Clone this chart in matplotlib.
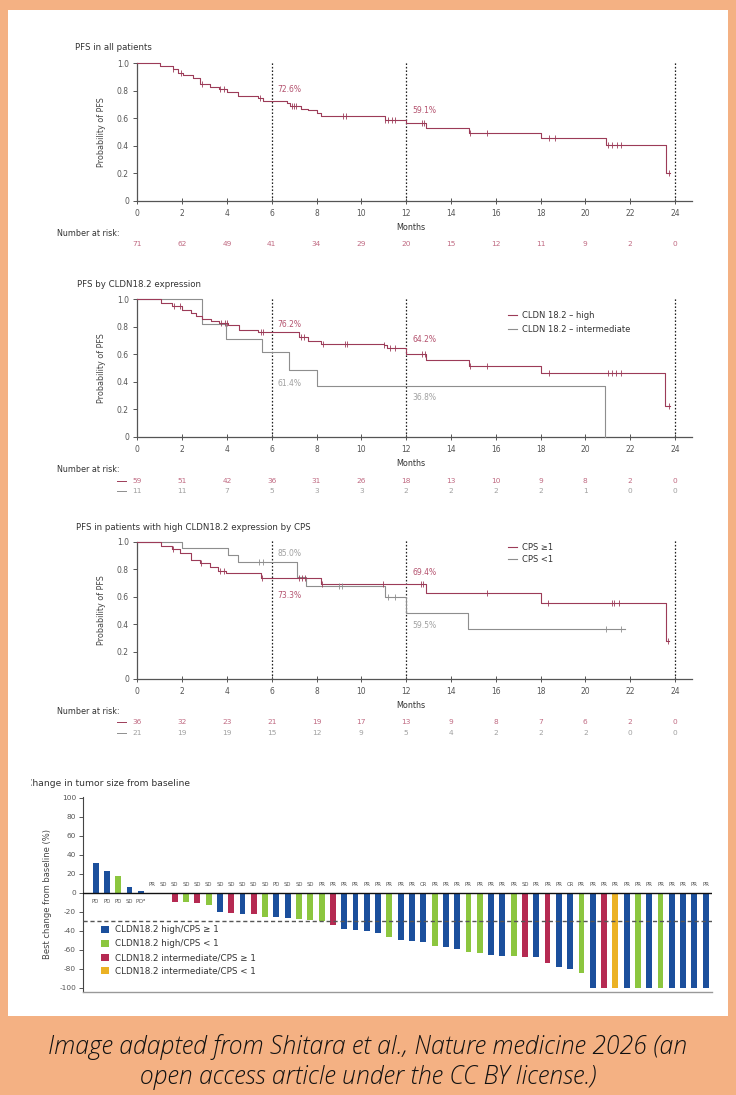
import matplotlib
matplotlib.use('Agg')
import matplotlib.pyplot as plt
import numpy as np
from matplotlib.transforms import blended_transform_factory
from matplotlib.patches import Rectangle, Patch
from matplotlib.lines import Line2D

plt.rcParams['font.family'] = ['DejaVu Sans']

# ---------------- data ----------------
month_ticks = [0, 2, 4, 6, 8, 10, 12, 14, 16, 18, 20, 22, 24]
prob_ticks = [0, 0.2, 0.4, 0.6, 0.8, 1.0]
prob_labels = ['0', '0.2', '0.4', '0.6', '0.8', '1.0']
landmarks_1 = [6, 12, 24]

# Panel 1: all patients
t_all = [0, 1.0, 1.6, 1.8, 2.05, 2.5, 2.8, 3.25, 3.65, 4.0, 4.5, 5.4, 5.6, 6.67, 6.8,
         7.3, 7.6, 8.0, 8.2, 11.05, 12.0, 12.9, 14.8, 18.0, 20.94, 23.6]
s_all = [1.0, 0.98, 0.955, 0.93, 0.915, 0.89, 0.85, 0.83, 0.81, 0.79, 0.765, 0.745, 0.726, 0.71, 0.69,
         0.67, 0.66, 0.64, 0.62, 0.591, 0.569, 0.528, 0.496, 0.455, 0.404, 0.203]
end_all = 23.8
cens_all = [1.6, 1.97, 2.87, 3.7, 3.85, 5.47, 6.9, 7.0, 7.1, 9.2, 9.32, 11.05, 11.2, 11.35, 11.5,
            12.7, 12.8, 14.85, 15.6, 18.4, 18.65, 21.0, 21.2, 21.4, 21.6, 23.75]
risk_all = [71, 62, 49, 41, 34, 29, 20, 15, 12, 11, 9, 2, 0]

# Panel 2: CLDN18.2 high vs intermediate
t_hi = [0, 1.05, 1.57, 2.0, 2.4, 2.6, 2.9, 3.3, 3.65, 4.05, 4.55, 5.4, 7.2, 7.6, 8.2, 11.0,
        11.15, 12.0, 12.9, 14.8, 18.0, 23.55]
s_hi = [1.0, 0.976, 0.95, 0.92, 0.90, 0.88, 0.86, 0.84, 0.825, 0.81, 0.777, 0.762, 0.728, 0.697, 0.678,
        0.667, 0.642, 0.602, 0.558, 0.515, 0.461, 0.226]
end_hi = 23.8
cens_hi = [1.65, 1.9, 3.75, 3.9, 4.0, 5.5, 5.6, 7.3, 7.45, 8.3, 9.25, 9.35, 11.0, 11.3, 11.5,
           12.7, 12.85, 14.85, 15.6, 18.4, 21.0, 21.2, 21.35, 21.6, 23.75]
t_int = [0, 2.9, 3.97, 5.55, 6.75, 8.0, 20.9]
s_int = [1.0, 0.818, 0.711, 0.614, 0.485, 0.368, 0.0]
end_int = 20.9
cens_int = []
risk_hi = [59, 51, 42, 36, 31, 26, 18, 13, 10, 9, 8, 2, 0]
risk_int = [11, 11, 7, 5, 3, 3, 2, 2, 2, 2, 1, 0, 0]

# Panel 3: high CLDN18.2 by CPS
t_c1 = [0, 1.08, 1.53, 1.9, 2.4, 2.8, 3.24, 3.6, 3.98, 5.5, 8.2, 12.9, 18.0, 23.6]
s_c1 = [1.0, 0.969, 0.947, 0.92, 0.868, 0.843, 0.818, 0.787, 0.77, 0.733, 0.694, 0.63, 0.552, 0.274]
end_c1 = 23.75
cens_c1 = [1.6, 2.85, 3.7, 3.85, 5.55, 7.2, 7.35, 7.5, 8.25, 10.95, 12.65, 12.75, 15.6, 18.35,
           21.2, 21.3, 21.5, 23.7]
t_c0 = [0, 1.98, 4.06, 4.5, 7.13, 7.55, 11.04, 12.0, 14.77]
s_c0 = [1.0, 0.952, 0.905, 0.85, 0.74, 0.68, 0.595, 0.484, 0.363]
end_c0 = 21.75
cens_c0 = [5.45, 5.6, 9.0, 9.15, 11.2, 11.5, 20.94, 21.6]
risk_c1 = [36, 32, 23, 21, 19, 17, 13, 9, 8, 7, 6, 2, 0]
risk_c0 = [21, 19, 19, 15, 12, 9, 5, 4, 2, 2, 2, 0, 0]

# Waterfall
wf_values = [32, 23, 17.5, 6, 2.5, -0.6, -0.6, -10, -10, -11, -13, -20, -21.5, -22, -22, -25.5,
             -25.5, -26, -27, -28, -29.5, -33.5, -38, -39, -39.5, -42.5, -46, -50, -51, -52,
             -55.5, -56.5, -59, -62, -63, -65, -66, -66.5, -67, -67, -73.5, -78, -80, -84,
             -100, -100, -100, -100, -100, -100, -100, -100, -100, -100, -100]
wf_groups = ['B', 'B', 'G', 'B', 'B', 'B', 'B', 'R', 'G', 'R', 'G', 'B', 'R', 'B', 'R', 'G',
             'B', 'B', 'G', 'G', 'G', 'R', 'B', 'B', 'B', 'B', 'G', 'B', 'B', 'B',
             'G', 'B', 'B', 'G', 'G', 'B', 'B', 'G', 'R', 'B', 'R', 'B', 'B', 'G',
             'B', 'R', 'O', 'B', 'G', 'B', 'G', 'B', 'B', 'B', 'B']
wf_resp = ['PD', 'PD', 'PD', 'SD', 'PD$^{a}$', 'PR', 'SD', 'SD', 'SD', 'SD', 'SD', 'SD', 'SD', 'SD',
           'SD', 'SD', 'PD', 'SD', 'SD', 'SD', 'PR', 'PR', 'PR', 'PR', 'PR', 'PR', 'PR', 'PR',
           'PR', 'CR', 'PR', 'PR', 'PR', 'PR', 'PR', 'PR', 'PR', 'PR', 'SD', 'PR', 'PR', 'PR',
           'CR', 'PR', 'PR', 'PR', 'PR', 'PR', 'PR', 'PR', 'PR', 'PR', 'PR', 'PR', 'PR']
group_keys = ['B', 'G', 'R', 'O']
group_labels = ['CLDN18.2 high/CPS \u2265 1', 'CLDN18.2 high/CPS < 1',
                'CLDN18.2 intermediate/CPS \u2265 1', 'CLDN18.2 intermediate/CPS < 1']
wf_ticks = [-100, -80, -60, -40, -20, 0, 20, 40, 60, 80, 100]

# ---------------- styling ----------------
W, H = 736, 1095
ORANGE = '#F4B183'
RED = '#9C3B58'
RED_T = '#B4526E'
RED_R = '#C06A82'
GRAY = '#8E8E8E'
GRAY_T = '#A0A0A0'
TXT = '#333333'
TICK = '#555555'
group_colors = {'B': '#1B4F9C', 'G': '#8CC63F', 'R': '#B52A52', 'O': '#EBB224'}

fig = plt.figure(figsize=(W / 100, H / 100), dpi=100)
fig.patch.set_facecolor(ORANGE)
fig.add_artist(Rectangle((8 / W, 1 - 1016 / H), 720 / W, (1016 - 10) / H,
                         transform=fig.transFigure, facecolor='white', edgecolor='none', zorder=0))


def fy(y):
    return 1 - y / H


def axrect(l, t, r, b):
    return [l / W, 1 - b / H, (r - l) / W, (b - t) / H]


X0 = 137.3
PXM = 22.4
XMAX = 24.75


def km_axes(top, bottom):
    ax = fig.add_axes(axrect(X0, top, X0 + XMAX * PXM, bottom))
    ax.set_xlim(0, XMAX)
    ax.set_ylim(0, 1.0)
    ax.patch.set_alpha(0)
    ax.spines[['top', 'right']].set_visible(False)
    for s in ['left', 'bottom']:
        ax.spines[s].set_color('#555555')
        ax.spines[s].set_linewidth(0.9)
    ax.set_xticks(month_ticks)
    ax.set_xticklabels([str(m) for m in month_ticks])
    ax.set_yticks(prob_ticks)
    ax.set_yticklabels(prob_labels)
    ax.tick_params(axis='both', labelsize=5.5, colors='#555555', labelcolor=TICK, width=0.7)
    ax.tick_params(axis='y', length=3, pad=3)
    ax.tick_params(axis='x', direction='inout', length=4, pad=4)
    ax.text((102 - X0) / (XMAX * PXM), 0.5, 'Probability of PFS', transform=ax.transAxes,
            rotation=90, ha='center', va='center', fontsize=5.8, color='#444444')
    for m in landmarks_1:
        ax.plot([m, m], [0, 1.015], ls=(0, (1.3, 1.5)), color='#222222', lw=0.9, clip_on=False,
                zorder=1)
    return ax


def km_curve(ax, t, s, end, cens, color):
    tt = list(t) + [end]
    ss = list(s) + [s[-1]]
    ax.step(tt, ss, where='post', color=color, lw=0.8, zorder=3, clip_on=False)
    if cens:
        c = np.array(cens)
        idx = np.searchsorted(np.array(t), c, side='right') - 1
        ax.plot(c, np.array(s)[idx], ls='none', marker='|', ms=4, mew=0.6, color=color, zorder=4,
                clip_on=False)


def risk_row(ax, values, y_px, bottom_px, height_px, color):
    tr = blended_transform_factory(ax.transData, ax.transAxes)
    yf = (bottom_px - y_px) / height_px
    for m, v in zip(month_ticks, values):
        ax.text(m, yf, str(v), transform=tr, ha='center', va='center', fontsize=5.3, color=color)


def panel_text(title, title_x, title_y, months_y, nar_y):
    fig.text(title_x / W, fy(title_y), title, fontsize=6.2, color=TXT, ha='left', va='center')
    fig.text(411 / W, fy(months_y), 'Months', fontsize=5.8, color=TXT, ha='center', va='center')
    fig.text(57 / W, fy(nar_y), 'Number at risk:', fontsize=5.8, color=TXT, ha='left', va='center')


# ---- Panel 1
top1, bot1 = 63.3, 201.0
ax1 = km_axes(top1, bot1)
km_curve(ax1, t_all, s_all, end_all, cens_all, RED)
ax1.text(6.25, 0.81, '72.6%', fontsize=5.5, color=RED_T, va='center')
ax1.text(12.3, 0.66, '59.1%', fontsize=5.5, color=RED_T, va='center')
panel_text('PFS in all patients', 75, 48, 228, 233)
risk_row(ax1, risk_all, 244, bot1, bot1 - top1, RED_R)

# ---- Panel 2
top2, bot2 = 299.3, 436.7
ax2 = km_axes(top2, bot2)
km_curve(ax2, t_int, s_int, end_int, cens_int, GRAY)
km_curve(ax2, t_hi, s_hi, end_hi, cens_hi, RED)
ax2.text(6.25, 0.818, '76.2%', fontsize=5.5, color=RED_T, va='center')
ax2.text(6.25, 0.39, '61.4%', fontsize=5.5, color=GRAY_T, va='center')
ax2.text(12.3, 0.704, '64.2%', fontsize=5.5, color=RED_T, va='center')
ax2.text(12.3, 0.287, '36.8%', fontsize=5.5, color=GRAY_T, va='center')
panel_text('PFS by CLDN18.2 expression', 77, 285, 464, 470)
risk_row(ax2, risk_hi, 481, bot2, bot2 - top2, RED_R)
risk_row(ax2, risk_int, 491, bot2, bot2 - top2, GRAY_T)
for yy, col, lab in [(315, RED, 'CLDN 18.2 \u2013 high'), (329, GRAY, 'CLDN 18.2 \u2013 intermediate')]:
    fig.add_artist(Line2D([508 / W, 517 / W], [fy(yy), fy(yy)], color=col, lw=0.8,
                          transform=fig.transFigure))
    fig.text(522 / W, fy(yy), lab, fontsize=6, color=TXT, va='center', ha='left')
for yy, col in [(481, RED), (491, GRAY)]:
    fig.add_artist(Line2D([117 / W, 126 / W], [fy(yy), fy(yy)], color=col, lw=0.7,
                          transform=fig.transFigure))

# ---- Panel 3
top3, bot3 = 541.7, 679.0
ax3 = km_axes(top3, bot3)
km_curve(ax3, t_c0, s_c0, end_c0, cens_c0, GRAY)
km_curve(ax3, t_c1, s_c1, end_c1, cens_c1, RED)
ax3.text(6.25, 0.915, '85.0%', fontsize=5.5, color=GRAY_T, va='center')
ax3.text(6.25, 0.607, '73.3%', fontsize=5.5, color=RED_T, va='center')
ax3.text(12.3, 0.777, '69.4%', fontsize=5.5, color=RED_T, va='center')
ax3.text(12.3, 0.393, '59.5%', fontsize=5.5, color=GRAY_T, va='center')
panel_text('PFS in patients with high CLDN18.2 expression by CPS', 76, 528, 706, 712)
risk_row(ax3, risk_c1, 722, bot3, bot3 - top3, RED_R)
risk_row(ax3, risk_c0, 733, bot3, bot3 - top3, GRAY_T)
for yy, col, lab in [(547, RED, 'CPS \u22651'), (559, GRAY, 'CPS <1')]:
    fig.add_artist(Line2D([508 / W, 517 / W], [fy(yy), fy(yy)], color=col, lw=0.8,
                          transform=fig.transFigure))
    fig.text(522 / W, fy(yy), lab, fontsize=6, color=TXT, va='center', ha='left')
for yy, col in [(722, RED), (733, GRAY)]:
    fig.add_artist(Line2D([117 / W, 126 / W], [fy(yy), fy(yy)], color=col, lw=0.7,
                          transform=fig.transFigure))

# ---- Waterfall
axw = fig.add_axes(axrect(83, 797, 711.7, 991.8))
n = len(wf_values)
xs = np.arange(n)
axw.bar(xs, wf_values, width=0.52, color=[group_colors[g] for g in wf_groups], zorder=2)
axw.set_xlim(-1.12, n - 1 + 0.53)
axw.set_ylim(-104, 101)
axw.axhline(0, color='#111111', lw=1.0, zorder=3)
axw.axhline(-30, color='#555555', ls=(0, (3, 2)), lw=1.0, zorder=3)
axw.spines[['top', 'right']].set_visible(False)
axw.spines['left'].set_color('#444444')
axw.spines['left'].set_linewidth(0.8)
axw.spines['bottom'].set_color('#999999')
axw.spines['bottom'].set_linewidth(1.0)
axw.set_xticks([])
axw.set_yticks(wf_ticks)
axw.set_yticklabels([str(v) for v in wf_ticks])
axw.tick_params(axis='y', labelsize=5.3, colors='#555555', labelcolor=TICK, length=3, width=0.7,
                pad=2)
axw.patch.set_alpha(0)
for xi, v, r in zip(xs, wf_values, wf_resp):
    axw.text(xi, -9.2 if v > 1 else 9.2, r, ha='center', va='center', fontsize=3.9, color='#555555')
axw.text((47 - 83) / 628.7, 0.5, 'Best change from baseline (%)', transform=axw.transAxes,
         rotation=90, ha='center', va='center', fontsize=6, color='#444444')
handles = [Patch(facecolor=group_colors[k], edgecolor='none', label=l)
           for k, l in zip(group_keys, group_labels)]
axw.legend(handles=handles, loc='upper left', bbox_to_anchor=(101.5 / W, fy(925.5)),
           bbox_transform=fig.transFigure, frameon=False, fontsize=6.3, handlelength=0.85,
           handleheight=0.85, handletextpad=0.75, labelspacing=0.55, borderpad=0,
           borderaxespad=0, labelcolor='#333333')
fig.text(26.5 / W, fy(783), 'Change in tumor size from baseline', fontsize=6.6, color=TXT,
         ha='left', va='center', zorder=1)
# the source image is cropped through the first letter of this title
fig.add_artist(Rectangle((8 / W, fy(792)), 22.5 / W, 18 / H, transform=fig.transFigure,
                         facecolor='white', edgecolor='none', zorder=5))

# ---- caption
cap_kw = dict(ha='center', va='center', fontsize=17.8, style='italic', family='Open Sans',
              fontweight='light', color='#111111')
fig.text(0.5, fy(1047), 'Image adapted from Shitara et al., Nature medicine 2026 (an', **cap_kw)
fig.text(0.5, fy(1077), 'open access article under the CC BY license.)', **cap_kw)

fig.savefig('out.png', dpi=100, facecolor=fig.get_facecolor())
